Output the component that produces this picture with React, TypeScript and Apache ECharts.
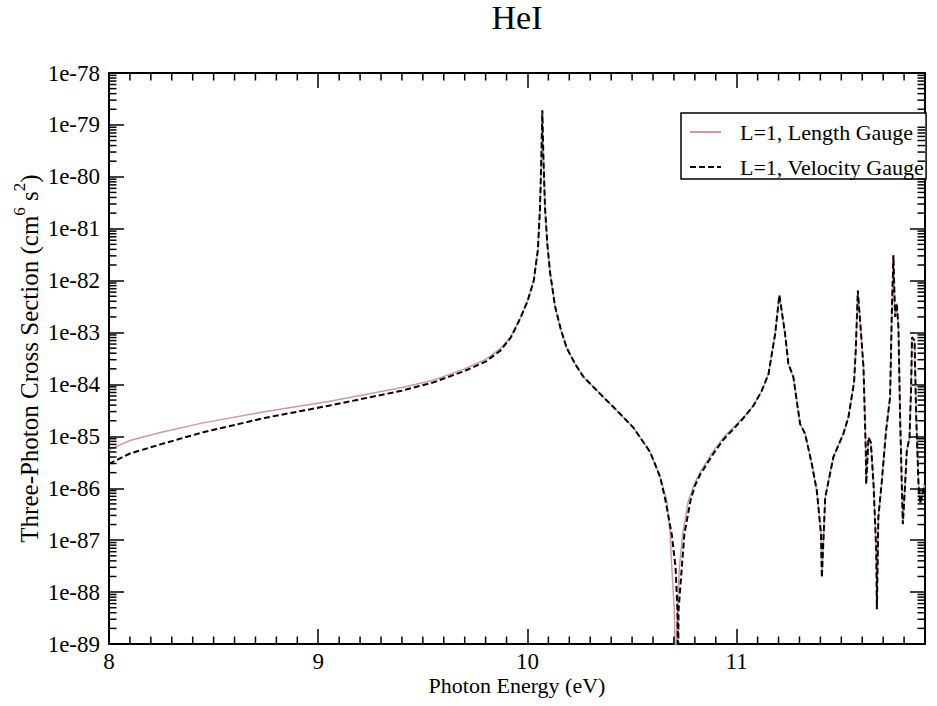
import React, { useEffect, useRef } from 'react';
import * as echarts from 'echarts';

// Photon energy (eV) and log10 of the three-photon cross section (cm^6 s^2)
const lengthEnergy = [
  8.0, 8.1, 8.25, 8.45, 8.75, 9.05, 9.4, 9.55, 9.7, 9.8, 9.87, 9.92, 9.965, 10.0, 10.03, 10.05, 10.06, 10.066, 10.071,
  10.076, 10.084, 10.095, 10.108, 10.132, 10.16, 10.188, 10.23, 10.267, 10.347, 10.427, 10.506, 10.586, 10.634, 10.666,
  10.682, 10.69, 10.702, 10.708, 10.717, 10.726, 10.742, 10.769, 10.8, 10.825, 10.889, 10.937, 10.984, 11.032, 11.08,
  11.12, 11.152, 11.184, 11.204, 11.231, 11.247, 11.271, 11.303, 11.327, 11.359, 11.383, 11.403, 11.407, 11.423, 11.462,
  11.51, 11.534, 11.561, 11.569, 11.579, 11.598, 11.606, 11.617, 11.619, 11.63, 11.641, 11.654, 11.667, 11.67, 11.677,
  11.694, 11.714, 11.733, 11.741, 11.749, 11.757, 11.765, 11.773, 11.781, 11.794, 11.805, 11.813, 11.826, 11.834, 11.838,
  11.85, 11.858, 11.869, 11.877, 11.9,
];
const lengthLog10Sigma = [
  -85.26, -85.08, -84.92, -84.74, -84.52, -84.33, -84.06, -83.92, -83.7, -83.52, -83.31, -83.08, -82.73, -82.4, -82.0,
  -81.4, -80.6, -79.7, -78.72, -79.6, -80.6, -81.3, -81.84, -82.5, -82.95, -83.3, -83.62, -83.85, -84.18, -84.5, -84.83,
  -85.3, -85.78, -86.24, -86.88, -87.53, -88.36, -89.6, -88.36, -87.53, -86.88, -86.24, -85.9, -85.69, -85.28, -85.02,
  -84.83, -84.63, -84.41, -84.12, -83.8, -83.02, -82.28, -83.02, -83.6, -83.86, -84.76, -84.95, -85.53, -86.05, -86.88,
  -87.72, -86.18, -85.4, -84.95, -84.63, -83.96, -83.35, -82.19, -83.22, -83.67, -85.28, -85.92, -85.02, -85.11, -85.92,
  -87.2, -88.33, -86.56, -85.85, -84.89, -84.25, -82.7, -81.51, -82.7, -82.44, -82.9, -84.63, -86.69, -85.92, -85.28,
  -85.02, -83.99, -83.09, -83.15, -84.63, -85.92, -86.3, -85.9,
];
const velocityEnergy = [
  8.0, 8.1, 8.25, 8.45, 8.75, 9.05, 9.4, 9.55, 9.7, 9.8, 9.87, 9.92, 9.965, 10.0, 10.03, 10.05, 10.06, 10.066, 10.071,
  10.076, 10.084, 10.095, 10.108, 10.132, 10.16, 10.188, 10.23, 10.267, 10.347, 10.427, 10.506, 10.586, 10.634, 10.66,
  10.69, 10.708, 10.717, 10.72, 10.722, 10.734, 10.75, 10.779, 10.8, 10.825, 10.889, 10.937, 10.984, 11.032, 11.08,
  11.12, 11.152, 11.184, 11.204, 11.231, 11.247, 11.271, 11.303, 11.327, 11.359, 11.383, 11.403, 11.407, 11.423, 11.462,
  11.51, 11.534, 11.561, 11.569, 11.579, 11.598, 11.606, 11.617, 11.619, 11.63, 11.641, 11.654, 11.667, 11.67, 11.677,
  11.694, 11.714, 11.733, 11.741, 11.749, 11.757, 11.765, 11.773, 11.781, 11.794, 11.805, 11.813, 11.826, 11.834, 11.838,
  11.85, 11.858, 11.869, 11.877, 11.9,
];
const velocityLog10Sigma = [
  -85.53, -85.33, -85.15, -84.92, -84.64, -84.41, -84.12, -83.96, -83.74, -83.56, -83.35, -83.1, -82.73, -82.4, -82.0,
  -81.4, -80.6, -79.7, -78.72, -79.6, -80.6, -81.3, -81.84, -82.5, -82.95, -83.3, -83.62, -83.85, -84.18, -84.5, -84.83,
  -85.3, -85.78, -86.24, -86.9, -87.53, -88.36, -89.6, -88.36, -87.72, -86.88, -86.24, -85.95, -85.74, -85.33, -85.06,
  -84.86, -84.65, -84.41, -84.12, -83.8, -83.02, -82.28, -83.02, -83.6, -83.86, -84.76, -84.95, -85.53, -86.05, -86.88,
  -87.72, -86.18, -85.4, -84.95, -84.63, -83.96, -83.35, -82.19, -83.22, -83.67, -85.28, -85.92, -85.02, -85.11, -85.92,
  -87.2, -88.33, -86.56, -85.85, -84.89, -84.25, -82.7, -81.51, -82.7, -82.44, -82.9, -84.63, -86.69, -85.92, -85.28,
  -85.02, -83.99, -83.09, -83.15, -84.63, -85.92, -86.3, -85.9,
];
const seriesNames = ['L=1, Length Gauge', 'L=1, Velocity Gauge'];
const titleText = 'HeI';
const xAxisTitle = 'Photon Energy (eV)';
const yAxisTitle = 'Three-Photon Cross Section (cm{sup|6} s{sup|2})';

const X_MIN = 8;
const X_MAX = 11.9;
const Y_MIN = -89; // 1e-89
const Y_MAX = -78; // 1e-78

const FONT = '"Liberation Serif", "Times New Roman", serif';
const PINK = '#d09a9a';

// axis decoration: xmgrace-style minor ticks
const yMinorTicks: number[] = [];
for (let n = Y_MIN; n < Y_MAX; n++) {
  for (let k = 2; k <= 9; k++) yMinorTicks.push(n + Math.log10(k));
}
const xMinorTicks: number[] = [];
for (let i = 81; i < 119; i++) {
  if (i % 10 !== 0) xMinorTicks.push(i / 10);
}

export default function App() {
  const ref = useRef<HTMLDivElement>(null);
  useEffect(() => {
    if (!ref.current) return;
    const chart = echarts.init(ref.current, undefined, { renderer: 'svg' });
    const axisLine = { show: true, onZero: false, lineStyle: { color: '#000', width: 2 } };
    const axisTick = { show: true, inside: true, length: 15, lineStyle: { color: '#000', width: 1.5 } };
    const tickStyle = { stroke: '#000', lineWidth: 1.5 };
    const labelStyle = { color: '#000', fontFamily: FONT, fontSize: 23 };
    chart.setOption({
      animation: false,
      backgroundColor: '#fff',
      title: {
        text: titleText,
        left: 517,
        top: 0,
        textAlign: 'center',
        padding: 0,
        textStyle: { color: '#000', fontFamily: FONT, fontSize: 34, fontWeight: 'normal' },
      },
      grid: { left: 109, top: 73, width: 816, height: 571, containLabel: false, outerBoundsMode: 'none' },
      legend: {
        data: seriesNames,
        orient: 'vertical',
        left: 681,
        top: 113,
        itemWidth: 31,
        itemHeight: 14,
        itemGap: 13,
        padding: [8, 2, 1, 8],
        backgroundColor: '#fff',
        borderColor: '#000',
        borderWidth: 1.5,
        borderRadius: 0,
        selectedMode: false,
        itemStyle: { opacity: 0, borderWidth: 0 },
        textStyle: { color: '#000', fontFamily: FONT, fontSize: 22, lineHeight: 22, padding: [0, 0, 0, 14] },
      },
      xAxis: [
        {
          type: 'value',
          position: 'bottom',
          min: X_MIN,
          max: X_MAX,
          interval: 1,
          axisLine,
          axisTick,
          splitLine: { show: false },
          axisLabel: {
            color: '#000',
            fontFamily: FONT,
            fontSize: 23,
            margin: 6,
            showMaxLabel: false,
            formatter: (v: number) => String(v),
          },
          name: xAxisTitle,
          nameLocation: 'middle',
          nameGap: 30,
          nameMoveOverlap: false,
          nameTextStyle: { color: '#000', fontFamily: FONT, fontSize: 22 },
        },
        {
          type: 'value',
          position: 'top',
          min: X_MIN,
          max: X_MAX,
          interval: 1,
          axisLine,
          axisTick,
          splitLine: { show: false },
          axisLabel: { show: false },
        },
      ],
      yAxis: [
        {
          type: 'value',
          position: 'left',
          min: Y_MIN,
          max: Y_MAX,
          interval: 1,
          axisLine,
          axisTick,
          splitLine: { show: false },
          axisLabel: { ...labelStyle, margin: 9, formatter: (v: number) => '1e' + v },
          name: yAxisTitle,
          nameLocation: 'middle',
          nameRotate: 90,
          nameGap: 62,
          nameMoveOverlap: false,
          nameTextStyle: {
            color: '#000',
            fontFamily: FONT,
            fontSize: 25,
            lineHeight: 36,
            rich: { sup: { color: '#000', fontFamily: FONT, fontSize: 17, lineHeight: 17, verticalAlign: 'top' } },
          },
        },
        {
          type: 'value',
          position: 'right',
          min: Y_MIN,
          max: Y_MAX,
          interval: 1,
          axisLine,
          axisTick,
          splitLine: { show: false },
          axisLabel: { show: false },
        },
      ],
      series: [
        {
          name: seriesNames[0],
          type: 'line',
          data: lengthEnergy.map((e, i) => [e, lengthLog10Sigma[i]]),
          symbol: 'none',
          clip: true,
          lineStyle: { color: PINK, width: 1.5 },
          itemStyle: { color: PINK },
          z: 2,
        },
        {
          name: seriesNames[1],
          type: 'line',
          data: velocityEnergy.map((e, i) => [e, velocityLog10Sigma[i]]),
          symbol: 'none',
          clip: true,
          lineStyle: { color: '#000', width: 2, type: [6, 3] },
          itemStyle: { color: '#000' },
          z: 3,
        },
        {
          type: 'custom',
          silent: true,
          data: yMinorTicks.map((v) => [X_MIN, v]),
          renderItem: (_p: any, api: any) => {
            const v = api.value(1);
            const l = api.coord([X_MIN, v]);
            const r = api.coord([X_MAX, v]);
            return {
              type: 'group',
              children: [
                { type: 'line', shape: { x1: l[0], y1: l[1], x2: l[0] + 7.5, y2: l[1] }, style: tickStyle },
                { type: 'line', shape: { x1: r[0] - 7.5, y1: r[1], x2: r[0], y2: r[1] }, style: tickStyle },
              ],
            };
          },
          z: 4,
        },
        {
          type: 'custom',
          silent: true,
          data: xMinorTicks.map((v) => [v, Y_MIN]),
          renderItem: (_p: any, api: any) => {
            const v = api.value(0);
            const b = api.coord([v, Y_MIN]);
            const t = api.coord([v, Y_MAX]);
            return {
              type: 'group',
              children: [
                { type: 'line', shape: { x1: b[0], y1: b[1], x2: b[0], y2: b[1] - 7.5 }, style: tickStyle },
                { type: 'line', shape: { x1: t[0], y1: t[1], x2: t[0], y2: t[1] + 7.5 }, style: tickStyle },
              ],
            };
          },
          z: 4,
        },
      ],
    });
    return () => chart.dispose();
  }, []);
  return <div ref={ref} style={{ position: 'absolute', left: 0, top: 0, width: 937, height: 706 }} />;
}
